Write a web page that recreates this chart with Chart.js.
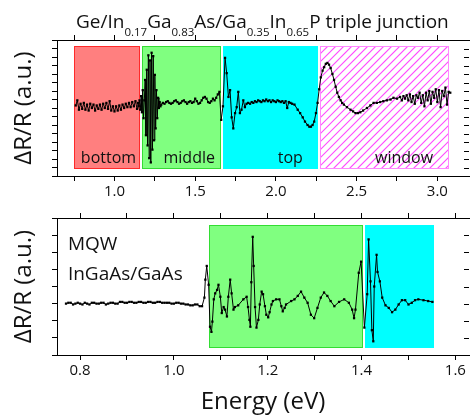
<!DOCTYPE html>
<html>
<head>
<meta charset="utf-8">
<script src="https://cdn.jsdelivr.net/npm/chart.js@4.4.1/dist/chart.umd.min.js"></script>
<style>
html, body { margin: 0; padding: 0; background: #fff; }
#wrap { position: relative; width: 473px; height: 417px; overflow: hidden; font-family: "Open Sans", sans-serif; }
canvas { position: absolute; left: 0; }
#title { position: absolute; left: 76px; top: 9px; font-size: 19px; line-height: 24px; white-space: nowrap; color: #111; }
#title .s { font-size: 11.5px; line-height: 1; vertical-align: -8px; }
</style>
</head>
<body>
<div id="wrap">
  <canvas id="topChart" width="473" height="205" style="top:0"></canvas>
  <canvas id="bottomChart" width="473" height="212" style="top:205px"></canvas>
  <div id="title">Ge/In<span class="s">0.17</span>Ga<span class="s">0.83</span>As/Ga<span class="s">0.35</span>In<span class="s">0.65</span>P triple junction</div>
</div>
<script>
// triple junction spectrum (upper panel)
var topEnergy = [
  0.76,0.77,0.78,0.79,0.80,0.81,0.82,0.83,0.84,0.85,0.86,0.87,0.88,0.89,0.90,0.91,0.92,0.93,0.94,0.95,
  0.96,0.97,0.98,0.99,1.00,1.01,1.02,1.03,1.04,1.05,1.06,1.07,1.08,1.09,1.10,1.11,1.12,1.13,1.14,1.145,
  1.150,1.155,1.160,1.165,1.170,1.175,1.180,1.185,1.190,1.195,1.200,1.205,1.210,1.215,1.220,1.225,1.230,1.235,
  1.240,1.245,1.250,1.255,1.260,1.265,1.270,1.275,1.280,1.285,
  1.29,1.30,1.31,1.32,1.33,1.34,1.35,1.36,1.37,1.38,1.39,1.40,1.41,1.42,1.43,1.44,1.45,1.46,1.47,1.48,
  1.49,1.50,1.51,1.52,1.53,1.54,1.55,1.56,1.57,1.58,1.59,1.60,1.61,1.62,1.63,1.64,1.65,
  1.661,1.672,1.685,1.695,1.706,1.716,1.726,1.736,1.747,1.757,1.767,1.777,1.787,1.798,1.808,1.818,1.828,
  1.84,1.85,1.86,1.87,1.88,1.89,1.90,1.91,1.92,1.93,1.94,1.95,1.96,1.97,1.98,1.99,2.00,2.01,2.02,2.03,
  2.04,2.05,2.06,2.07,2.08,2.09,2.10,2.115,2.135,2.15,2.166,2.18,2.196,2.207,2.217,2.227,2.237,2.248,2.258,
  2.268,2.278,2.289,2.299,2.309,2.319,2.329,2.339,2.35,2.36,2.37,2.38,2.39,2.401,2.41,2.421,2.44,2.462,
  2.478,2.493,2.508,2.523,2.54,2.564,2.585,2.605,2.625,2.646,2.665,2.687,2.71,2.728,2.75,2.769,
  2.78,2.79,2.80,2.81,2.82,2.83,2.84,2.85,2.86,2.87,2.88,2.89,2.90,2.91,2.92,2.93,2.94,2.95,2.96,2.97,
  2.98,2.99,3.00,3.01,3.02,3.03,3.04,3.05,3.06,3.07,3.08
];
var topSignal = [
  0.3,0.9,-0.2,0.5,-0.1,0.6,-0.2,0.4,-0.3,0.5,0.0,0.4,-0.3,0.3,-0.1,0.4,-0.2,0.5,0.0,0.6,
  -0.1,0.8,-0.3,0.2,-0.4,0.2,-0.3,0.3,-0.2,0.4,0.0,0.5,0.1,0.6,0.1,0.7,0.2,0.8,-0.1,0.6,
  0.2,0.9,-0.2,1.4,-0.5,2.1,-1.2,0.9,3.3,-3.2,4.5,-4.4,6.2,-5.9,5.6,-6.4,6.5,-4.9,
  6.1,-3.8,3.9,-2.4,2.1,-1.2,1.2,0.0,0.7,0.2,
  0.4,0.6,0.5,0.7,0.8,0.6,0.5,0.6,0.8,0.9,0.7,0.5,0.6,0.8,0.9,0.7,0.5,0.7,0.8,0.6,
  0.7,1.1,0.8,0.5,0.6,0.9,1.2,1.3,1.1,0.7,0.6,0.8,1.1,0.9,1.2,1.6,1.9,
  -1.4,0.2,5.9,4.1,1.3,2.1,-1.1,-2.4,-0.6,0.1,1.9,-0.6,-0.2,0.9,0.1,0.5,0.6,
  0.5,0.7,0.6,0.8,0.7,0.9,0.8,0.7,0.9,0.8,1.0,0.8,0.9,0.7,0.9,0.8,0.7,0.9,0.8,0.7,
  0.8,0.6,0.8,0.0,0.7,0.6,0.5,0.4,-0.2,-0.6,-1.1,-1.6,-2.0,-2.2,-2.2,-2.0,-1.6,-0.6,0.6,
  2.2,3.6,4.4,4.8,5.2,5.3,5.1,4.7,4.0,3.3,2.5,1.8,1.3,0.9,0.6,0.4,0.1,-0.2,
  -0.4,-0.6,-0.6,-0.5,-0.3,0.0,0.3,0.6,0.6,0.7,0.8,0.9,1.0,1.2,1.1,1.3,
  0.9,1.4,1.1,1.5,0.9,1.6,0.7,1.4,0.5,1.5,1.2,1.8,0.6,1.5,0.2,1.8,0.9,2.0,0.5,1.9,
  1.2,2.2,0.7,2.1,0.1,2.0,1.4,2.4,0.4,1.9,1.8
];
var topBands = ['bottom', 'middle', 'top', 'window'];
var topBandFrom = [0.75, 1.17, 1.67, 2.27];
var topBandTo = [1.16, 1.66, 2.26, 3.07];

// MQW InGaAs/GaAs spectrum (lower panel)
var bottomEnergy = [
  0.770,0.775,0.780,0.785,0.790,0.795,0.800,0.805,0.810,0.815,0.820,0.825,0.830,0.835,0.840,0.845,0.850,
  0.855,0.860,0.865,0.870,0.875,0.880,0.885,0.890,0.895,0.900,0.905,0.910,0.915,0.920,0.925,0.930,0.935,
  0.940,0.945,0.950,0.955,0.960,0.965,0.970,0.975,0.980,0.985,0.990,0.995,1.000,1.005,1.010,1.015,1.020,
  1.025,1.030,1.035,1.040,1.045,1.050,1.055,1.060,
  1.065,1.067,1.070,1.074,1.077,1.080,1.082,1.085,1.088,1.092,1.095,1.099,1.102,1.106,1.109,1.113,1.116,
  1.120,1.123,1.127,1.130,1.137,1.148,1.155,1.158,1.161,1.163,1.165,1.168,1.170,1.173,1.176,1.180,1.183,
  1.187,1.190,1.194,1.197,1.201,1.204,1.208,1.211,1.218,1.225,1.229,1.232,1.236,1.239,1.250,1.257,1.264,
  1.271,1.278,1.285,1.292,1.299,1.306,1.313,1.320,1.327,1.334,1.342,1.352,1.363,1.373,1.380,1.384,1.387,
  1.394,1.399,1.406,1.412,1.415,1.419,1.422,1.425,1.427,1.432,1.434,1.439,1.444,1.451,1.458,1.465,1.472,
  1.479,1.486,1.493,1.500,1.507,1.514,1.521,1.532,1.542,1.551
];
var bottomSignal = [
  0.0,0.1,0.1,-0.1,0.0,0.1,0.0,-0.1,0.1,0.0,-0.1,0.1,0.1,0.0,0.0,0.1,0.1,
  -0.1,0.0,0.1,0.1,0.0,0.0,0.2,0.2,0.1,0.1,0.2,0.2,0.1,0.1,0.2,0.2,0.1,
  0.1,0.2,0.2,0.1,0.1,0.2,0.2,0.1,0.1,0.1,0.1,0.0,0.0,0.1,0.1,0.0,0.0,
  -0.1,-0.1,-0.2,-0.2,-0.1,-0.1,-0.3,-0.3,
  0.7,2.8,4.4,2.2,-2.7,-3.3,-2.1,0.5,1.2,1.6,2.2,0.8,-1.1,-0.4,-0.7,-1.5,0.8,
  2.8,1.2,-0.7,-0.4,-0.2,0.5,0.8,-0.4,-1.9,-2.7,2.5,7.8,4.4,-0.4,-2.8,-1.9,-0.1,
  1.4,1.1,-0.3,-1.3,-1.6,-1.0,-0.1,0.3,0.5,0.5,-0.3,-0.9,-0.5,-0.1,0.3,0.5,0.9,
  1.4,0.7,0.1,-1.3,-1.7,-0.5,0.7,1.3,0.9,0.3,-0.3,0.2,0.5,0.1,-0.7,-1.7,-0.7,
  3.6,4.9,-2.8,1.1,7.5,2.6,-3.1,-4.4,2.0,5.7,3.7,2.6,0.7,-0.2,-0.5,-1.0,-0.7,
  -0.1,0.4,0.4,-0.1,0.1,0.4,0.5,0.4,0.3,0.2
];
var bottomBandFrom = [1.074, 1.408];
var bottomBandTo = [1.403, 1.555];

Chart.defaults.font.family = '"Open Sans", sans-serif';
Chart.defaults.color = '#111';
Chart.defaults.animation = false;

// coloured energy windows, their names, and the inner ticks on the right edge
function bandsPlugin(cfg) {
  return {
    id: 'bands',
    beforeDatasetsDraw: function(chart) {
      var ctx = chart.ctx, x = chart.scales.x, y = chart.scales.y;
      ctx.save();
      cfg.from.forEach(function(f, i) {
        var st = cfg.styles[i];
        var l = Math.round(x.getPixelForValue(f)), r = Math.round(x.getPixelForValue(cfg.to[i]));
        var t = Math.round(y.getPixelForValue(cfg.top)), b = Math.round(y.getPixelForValue(cfg.bottom));
        if (st.hatch) {
          ctx.save();
          ctx.beginPath();
          ctx.rect(l, t, r - l, b - t);
          ctx.clip();
          ctx.strokeStyle = st.hatch;
          ctx.lineWidth = 1.1;
          ctx.beginPath();
          for (var k = l - (b - t); k < r; k += 8) {
            ctx.moveTo(k, b);
            ctx.lineTo(k + (b - t), t);
          }
          ctx.stroke();
          ctx.restore();
        } else {
          ctx.fillStyle = st.fill;
          ctx.fillRect(l, t, r - l, b - t);
        }
        if (st.border) {
          ctx.strokeStyle = st.border;
          ctx.lineWidth = 1;
          ctx.strokeRect(l + 0.5, t + 0.5, r - l - 1, b - t - 1);
        }
      });
      if (cfg.labels) {
        ctx.fillStyle = '#111';
        ctx.font = '16px "Open Sans"';
        ctx.textAlign = 'center';
        ctx.textBaseline = 'middle';
        cfg.labels.forEach(function(s, i) {
          ctx.fillText(s, x.getPixelForValue(cfg.labelX[i]), y.getPixelForValue(cfg.labelY));
        });
      }
      (cfg.notes || []).forEach(function(n) {
        ctx.fillStyle = '#111';
        ctx.font = '19px "Open Sans"';
        ctx.textAlign = 'left';
        ctx.textBaseline = 'middle';
        ctx.fillText(n.text, x.getPixelForValue(n.x), y.getPixelForValue(n.y));
      });
      ctx.restore();
    },
    afterDraw: function(chart) {
      var ctx = chart.ctx, a = chart.chartArea, y = chart.scales.y;
      ctx.save();
      ctx.strokeStyle = '#000';
      ctx.lineWidth = 1;
      ctx.beginPath();
      y.ticks.forEach(function(t) {
        var p = Math.round(y.getPixelForValue(t.value)) + 0.5;
        ctx.moveTo(a.right - 5, p);
        ctx.lineTo(a.right, p);
      });
      ctx.stroke();
      ctx.restore();
    }
  };
}

// regular tick positions between the axis bounds
function onStep(step) {
  return function(s) {
    var t = [];
    for (var k = Math.ceil(s.min / step - 1e-9); k * step <= s.max + 1e-9; k++) {
      t.push({ value: Math.round(k * step * 1e4) / 1e4 });
    }
    s.ticks = t;
  };
}

function xAxis(min, max, step, labelStep, pos, h, title) {
  return {
    type: 'linear', position: pos, min: min, max: max,
    afterBuildTicks: onStep(step),
    afterFit: function(s) { s.height = h; },
    ticks: {
      stepSize: step, autoSkip: false, maxRotation: 0, display: pos === 'bottom',
      font: { size: 15 }, color: '#111', padding: 2,
      callback: function(v) { return Math.abs(v / labelStep - Math.round(v / labelStep)) < 1e-6 ? v.toFixed(1) : ''; }
    },
    grid: { drawOnChartArea: false, tickLength: 5, color: '#000' },
    border: { color: '#000' },
    title: title ? { display: true, text: title, font: { size: 24 }, color: '#111', padding: { top: 0, bottom: 0 } } : { display: false }
  };
}

function yAxis(min, max, step) {
  return {
    min: min, max: max,
    afterFit: function(s) { s.width = 57; },
    ticks: { stepSize: step, display: false },
    grid: { drawOnChartArea: false, tickLength: 5, color: '#000' },
    border: { color: '#000' },
    title: { display: true, text: 'ΔR/R (a.u.)', font: { size: 24 }, color: '#111', padding: { top: 10 } }
  };
}

function series(xs, ys) {
  return {
    data: xs.map(function(v, i) { return { x: v, y: ys[i] }; }),
    borderColor: '#000', borderWidth: 1, tension: 0,
    pointStyle: 'rect', pointRadius: 1.6, pointBorderWidth: 0,
    pointBackgroundColor: '#000'
  };
}

var common = {
  responsive: false,
  devicePixelRatio: 1,
  layout: { padding: 0 },
  plugins: { legend: { display: false }, tooltip: { enabled: false } }
};

new Chart(document.getElementById('topChart'), {
  type: 'line',
  data: { datasets: [series(topEnergy, topSignal)] },
  options: Object.assign({}, common, {
    scales: {
      x: xAxis(0.644, 3.196, 0.25, 0.5, 'bottom', 29),
      x2: xAxis(0.644, 3.196, 0.25, 0.5, 'top', 40),
      y: yAxis(-8, 8, 1)
    }
  }),
  plugins: [bandsPlugin({
    from: topBandFrom, to: topBandTo, top: 7.3, bottom: -7.2,
    styles: [
      { fill: '#ff7f7f', border: '#ff2a2a' },
      { fill: '#80ff80', border: '#33dd33' },
      { fill: '#00ffff' },
      { hatch: '#ff4dff', border: '#ff88ff' }
    ],
    labels: topBands, labelX: [0.963, 1.463, 2.089, 2.794], labelY: -5.9
  })]
});

new Chart(document.getElementById('bottomChart'), {
  type: 'line',
  data: { datasets: [series(bottomEnergy, bottomSignal)] },
  options: Object.assign({}, common, {
    scales: {
      x: xAxis(0.7508, 1.629, 0.1, 0.2, 'bottom', 62, 'Energy (eV)'),
      x2: xAxis(0.7508, 1.629, 0.1, 0.2, 'top', 13),
      y: yAxis(-6, 10, 2)
    }
  }),
  plugins: [bandsPlugin({
    from: bottomBandFrom, to: bottomBandTo, top: 9.2, bottom: -5.2,
    styles: [
      { fill: '#80ff80', border: '#33dd33' },
      { fill: '#00ffff' }
    ],
    notes: [{ text: 'MQW', x: 0.774, y: 6.85 }, { text: 'InGaAs/GaAs', x: 0.774, y: 3.34 }]
  })]
});
</script>
</body>
</html>
